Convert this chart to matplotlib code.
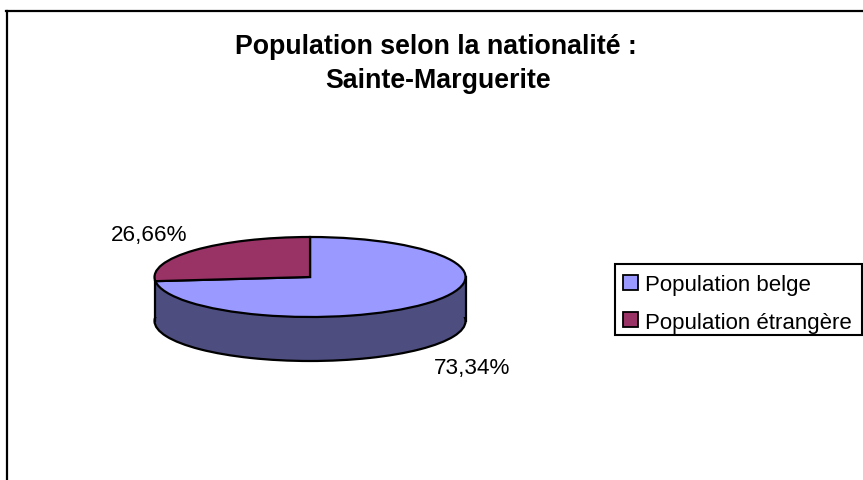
"""Pie chart of population by nationality, Sainte-Marguerite."""

import matplotlib
matplotlib.use('Agg')
import matplotlib.pyplot as plt
from matplotlib.lines import Line2D
from matplotlib.patches import Patch, Rectangle

# Data
categories = ['Population belge', 'Population étrangère']
shares = [73.34, 26.66]
title_lines = ['Population selon la nationalité :', 'Sainte-Marguerite']

top_colors = ['#9999FF', '#993366']
wall_color = '#4D4D80'

W, H = 863, 481
plt.rcParams['font.family'] = ['Liberation Sans', 'DejaVu Sans']

fig = plt.figure(figsize=(W / 100, H / 100), dpi=100, facecolor='white')

# Axes stretched so the unit pie lands on the flattened ellipse
left, right, top, bottom = 155, 466, 238, 318
ax = fig.add_axes([left / W, 1 - bottom / H, (right - left) / W, (bottom - top) / H])
depth = 44 / ((bottom - top) / 2)

# Only the front of the wall shows, and that is all the belge slice
wall_wedges, _ = ax.pie([sum(shares)], colors=[wall_color], startangle=90, counterclock=False,
                        center=(0, -depth), radius=1,
                        wedgeprops={'edgecolor': 'black', 'linewidth': 1.6})
ax.add_patch(Rectangle((-1, -depth), 2, depth, facecolor=wall_color, edgecolor='none', zorder=2))
ax.plot([-1, -1], [-depth, 0], color='black', lw=1.6, zorder=3, clip_on=False)
ax.plot([1, 1], [-depth, 0], color='black', lw=1.6, zorder=3, clip_on=False)
top_wedges, _ = ax.pie(shares, colors=top_colors, startangle=90, counterclock=False,
                       radius=1, wedgeprops={'edgecolor': 'black', 'linewidth': 1.6, 'zorder': 4})
ax.set_aspect('auto')
ax.set_xlim(-0.997, 1.003)
ax.set_ylim(-1, 1)
for w in wall_wedges + top_wedges:
    w.set_clip_on(False)

# Slice labels
label_xy = [(472, 374), (149.5, 241)]
for share, (x, y) in zip(shares, label_xy):
    fig.text(x / W, 1 - y / H, f'{share:.2f}%'.replace('.', ','), fontsize=16.2,
             ha='center', va='baseline', color='black')

# Title
fig.text(436 / W, 1 - 53.5 / H, title_lines[0], fontsize=19.3, fontweight='bold',
         ha='center', va='baseline')
fig.text(438 / W, 1 - 88.5 / H, title_lines[1], fontsize=19.3, fontweight='bold',
         ha='center', va='baseline')

# Chart frame, only the top and left sides are in the crop
fig.add_artist(Line2D([7 / W, 7 / W], [0, 1 - 11.5 / H], color='black', lw=1.6))
fig.add_artist(Line2D([6 / W, 1], [1 - 11.5 / H, 1 - 11.5 / H], color='black', lw=1.6))

# Legend box drawn by hand, the built-in frame pads all sides the same
fig.add_artist(Rectangle((615 / W, 1 - 336 / H), 247 / W, 71 / H, facecolor='white',
                         edgecolor='black', linewidth=1.5, transform=fig.transFigure, zorder=1))
handles = [Patch(facecolor=c, edgecolor='black', linewidth=1.3) for c in top_colors]
leg = fig.legend(handles, categories, loc='upper left', bbox_to_anchor=(623 / W, 1 - 275.5 / H),
                 borderaxespad=0, fontsize=16.05, frameon=False,
                 handlelength=0.68, handleheight=0.68, handletextpad=0.3,
                 labelspacing=0.72, borderpad=0)
leg.set_zorder(2)

fig.savefig('out.png', dpi=100)
